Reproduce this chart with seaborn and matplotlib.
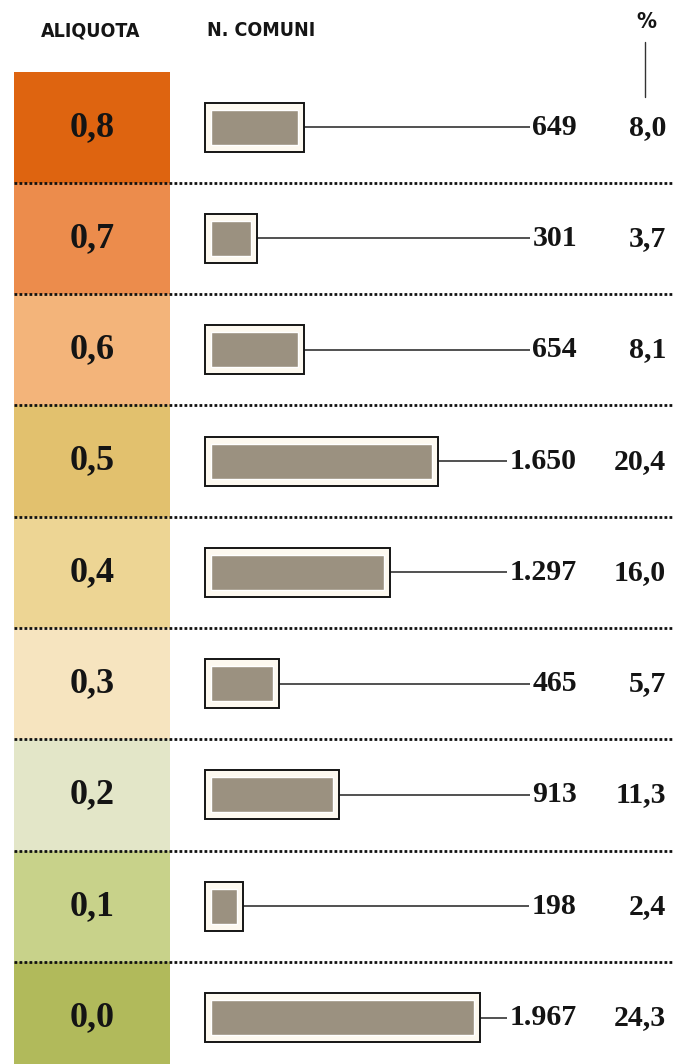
import numpy as np
import matplotlib
matplotlib.use("Agg")
import matplotlib.pyplot as plt
from matplotlib.colors import ListedColormap
from matplotlib.lines import Line2D
import seaborn as sns

# ---- data ----
aliquota = [0.8, 0.7, 0.6, 0.5, 0.4, 0.3, 0.2, 0.1, 0.0]
n_comuni = [649, 301, 654, 1650, 1297, 465, 913, 198, 1967]
percent = [8.0, 3.7, 8.1, 20.4, 16.0, 5.7, 11.3, 2.4, 24.3]
row_colors = ["#DE6410", "#EC8C4C", "#F3B47A", "#E2C16E", "#EDD594",
              "#F6E4BF", "#E3E6C8", "#C8D28A", "#B1BA5B"]
header_aliquota = "ALIQUOTA"
header_comuni = "N. COMUNI"
header_pct = "%"

aliq_labels = [f"{a:.1f}".replace(".", ",") for a in aliquota]
count_labels = [f"{v:,}".replace(",", ".") for v in n_comuni]
pct_labels = [f"{p:.1f}".replace(".", ",") for p in percent]

sns.set_theme(style="white")
plt.rcParams["font.family"] = ["Liberation Serif", "DejaVu Serif"]

W, H = 674, 1064
fig = plt.figure(figsize=(W / 100, H / 100), dpi=100)
fig.patch.set_facecolor("white")

def fy(y):
    return 1 - y / H

top_px, step_px, n = 71.5, 111.3, len(aliquota)
bot_px = top_px + step_px * n
ax_h = (bot_px - top_px) / H

# colour column as heatmap
hax = fig.add_axes([14 / W, fy(bot_px), 156 / W, ax_h])
sns.heatmap(np.arange(n).reshape(n, 1), cmap=ListedColormap(row_colors),
            vmin=-0.5, vmax=n - 0.5, cbar=False,
            annot=np.array(aliq_labels).reshape(n, 1), fmt="",
            annot_kws=dict(fontsize=26, fontweight="bold",
                           family=["Liberation Serif", "DejaVu Serif"],
                           color="#141414"),
            xticklabels=False, yticklabels=False, ax=hax)
hax.set_xlabel("")
hax.set_ylabel("")

# main bar axes
s = 0.1337  # px per unit
x0 = 211
ax = fig.add_axes([14 / W, fy(bot_px), (W - 14) / W, ax_h])
ax.set_facecolor("none")
pad = 6 / s
ypos = np.arange(n)

ax.barh(ypos, np.array(n_comuni) + 2 * pad, left=-pad, height=49 / step_px,
        color="#FDF9F0", edgecolor="#151515", linewidth=1.4, zorder=2)
sns.barplot(x=n_comuni, y=aliq_labels, orient="h", color="#9B9180",
            saturation=1, width=35 / step_px, ax=ax, zorder=3)

num_right = (577 - x0) / s
pct_right = (666 - x0) / s
ax.hlines(ypos, np.array(n_comuni) + pad, num_right, color="#222222",
          lw=1.1, zorder=1)
for i in range(n):
    ax.text(num_right, i, count_labels[i], ha="right", va="center",
            fontsize=21.5, fontweight="bold", color="#141414",
            family=["Liberation Serif", "DejaVu Serif"],
            bbox=dict(fc="white", ec="none", pad=2), zorder=4)
    ax.text(pct_right, i, pct_labels[i], ha="right", va="center",
            fontsize=21.5, fontweight="bold", color="#141414",
            family=["Liberation Serif", "DejaVu Serif"], zorder=4)

for i in range(n - 1):
    ax.axhline(i + 0.5, color="#111111", lw=2.0, ls=(0, (1, 0.8)), zorder=5)

ax.set_xlim((14 - x0) / s, (W - x0) / s)
ax.set_ylim(n - 0.5, -0.5)
ax.set_xlabel("")
ax.set_ylabel("")
ax.set_xticks([])
ax.set_yticks([])
for sp in ax.spines.values():
    sp.set_visible(False)

# headers
hdr_font = ["DejaVu Sans Condensed", "Liberation Sans Narrow", "DejaVu Sans"]
hdr_kw = dict(fontweight="bold", fontstretch="condensed",
              family=hdr_font, color="#151515", va="center")
fig.text(91 / W, fy(31), header_aliquota, ha="center", fontsize=14, **hdr_kw)
fig.text(207 / W, fy(31), header_comuni, ha="left", fontsize=14, **hdr_kw)
fig.text(646 / W, fy(22), header_pct, ha="center", fontsize=16, **hdr_kw)
fig.add_artist(Line2D([645 / W, 645 / W], [fy(42), fy(97)],
                      transform=fig.transFigure, color="#333333", lw=1.0))

fig.savefig("out.png", dpi=100, facecolor="white")
